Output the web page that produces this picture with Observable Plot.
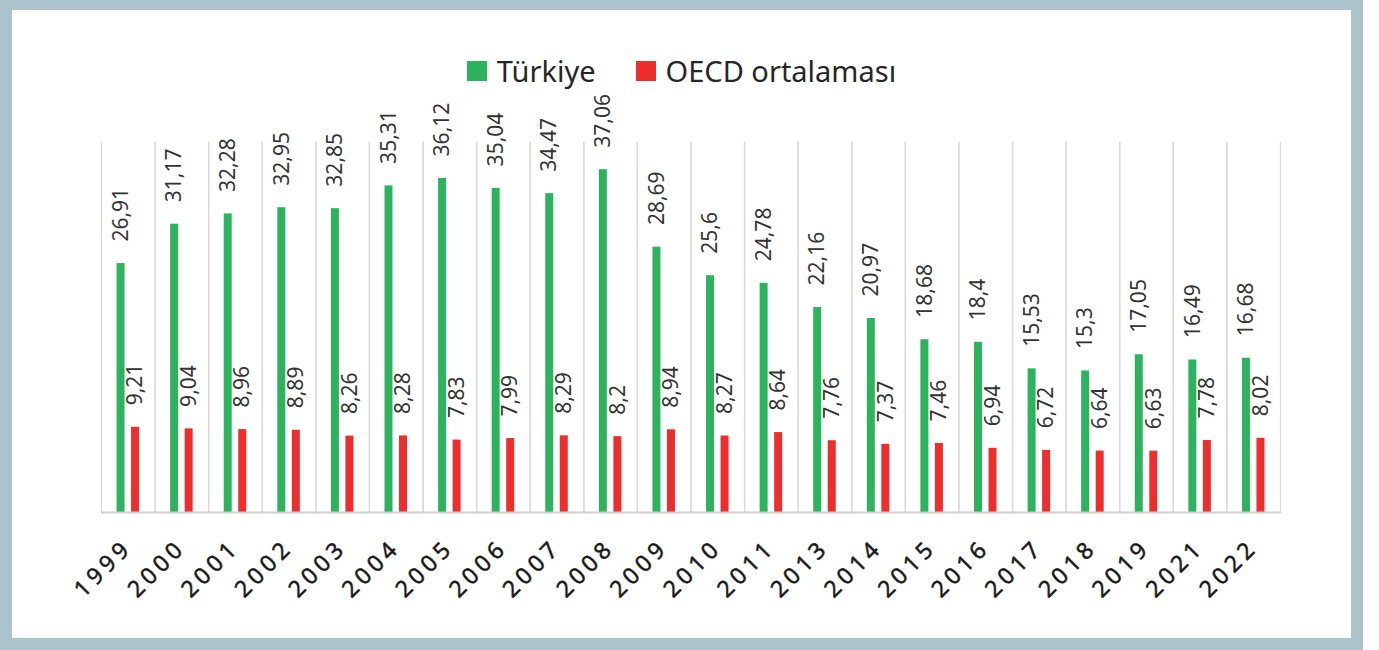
<!DOCTYPE html>
<html>
<head>
<meta charset="utf-8">
<script src="https://cdn.jsdelivr.net/npm/d3@7"></script>
<script src="https://cdn.jsdelivr.net/npm/@observablehq/plot@0.6"></script>
<style>
  html, body { margin: 0; padding: 0; background: #fff; }
  #frame {
    position: absolute; left: 0; top: 0;
    width: 1339px; height: 628px;
    border-style: solid; border-color: #abc4cc;
    border-width: 10px 12px 12px 12px;
    background: #fff;
    font-family: "Noto Sans", sans-serif;
  }
  #legend {
    height: 78px; box-sizing: border-box; padding-top: 46px;
    display: flex; justify-content: center; align-items: flex-start;
    font-size: 29px; line-height: 29px; color: #262626;
  }
  .item { display: flex; align-items: flex-start; }
  .item + .item { margin-left: 40px; }
  .sw { width: 20px; height: 20px; margin-top: 5px; margin-right: 10px; }
  #chart svg { overflow: visible; }
  #chart svg [aria-label^="fx-axis"] text { letter-spacing: 4.5px; stroke: currentColor; stroke-width: 0.5px; }
</style>
</head>
<body>
<div id="frame">
  <div id="legend"></div>
  <div id="chart"></div>
</div>
<script>
const years = ["1999","2000","2001","2002","2003","2004","2005","2006","2007","2008","2009","2010","2011","2013","2014","2015","2016","2017","2018","2019","2021","2022"];
const turkiye = [26.91,31.17,32.28,32.95,32.85,35.31,36.12,35.04,34.47,37.06,28.69,25.6,24.78,22.16,20.97,18.68,18.4,15.53,15.3,17.05,16.49,16.68];
const oecd = [9.21,9.04,8.96,8.89,8.26,8.28,7.83,7.99,8.29,8.2,8.94,8.27,8.64,7.76,7.37,7.46,6.94,6.72,6.64,6.63,7.78,8.02];
const seriesNames = ["Türkiye", "OECD ortalaması"];
const seriesColors = ["#2db35d", "#ee2d2d"];

const data = [];
years.forEach((yr, i) => {
  data.push({year: yr, series: seriesNames[0], value: turkiye[i]});
  data.push({year: yr, series: seriesNames[1], value: oecd[i]});
});
const fmt = v => String(v).replace(".", ",");

// legend
const legend = document.getElementById("legend");
seriesNames.forEach((name, i) => {
  const it = document.createElement("div");
  it.className = "item";
  const sw = document.createElement("div");
  sw.className = "sw";
  sw.style.background = seriesColors[i];
  const tx = document.createElement("span");
  tx.textContent = name;
  it.appendChild(sw); it.appendChild(tx);
  legend.appendChild(it);
});

const chart = Plot.plot({
  width: 1339,
  height: 550,
  marginTop: 54,
  marginBottom: 126,
  marginLeft: 89,
  marginRight: 71,
  style: {fontFamily: "Noto Sans, sans-serif", fontSize: "23px", color: "#1a1a1a", background: "transparent"},
  fx: {domain: years, padding: 0, round: false, label: null, tickRotate: -45, tickSize: 0, tickPadding: 31},
  x: {domain: seriesNames, paddingInner: 0.45, paddingOuter: 1.07, round: false, axis: null},
  y: {domain: [0, 40], axis: null},
  color: {domain: seriesNames, range: seriesColors},
  marks: [
    Plot.frame({anchor: "left", stroke: "#d9d9d9", strokeWidth: 1.3}),
    Plot.frame({anchor: "right", stroke: "#d9d9d9", strokeWidth: 1.3}),
    Plot.barY(data, {fx: "year", x: "series", y: "value", fill: "series"}),
    Plot.ruleY([0], {stroke: "#d0d0d0", strokeWidth: 2}),
    Plot.text(data, {fx: "year", x: "series", y: "value", text: d => fmt(d.value),
      rotate: -90, textAnchor: "start", lineAnchor: "middle", dy: -22,
      fontSize: 21, fill: "#333"})
  ]
});
document.getElementById("chart").appendChild(chart);
</script>
</body>
</html>
